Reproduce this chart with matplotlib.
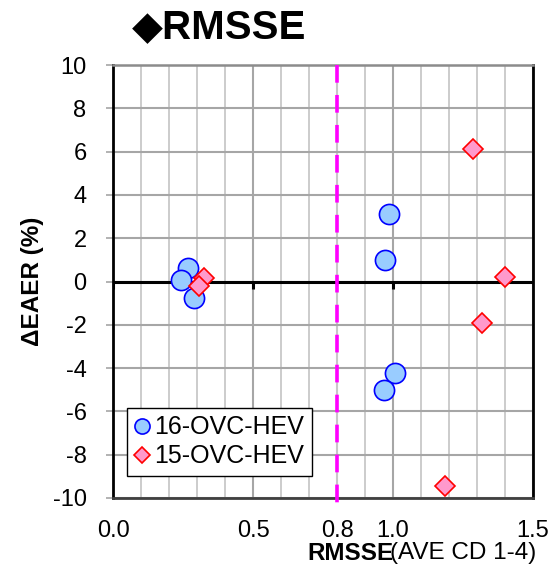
import numpy as np
import matplotlib
matplotlib.use("Agg")
import matplotlib.pyplot as plt

plt.rcParams['font.family'] = ['Liberation Sans', 'DejaVu Sans']
plt.rcParams['axes.unicode_minus'] = False

# RMSSE (x) vs ΔEAER % (y)
ovc16_rmsse = [0.267, 0.243, 0.288, 0.973, 0.986, 1.006, 0.968]
ovc16_deaer = [0.62, 0.08, -0.77, 1.0, 3.11, -4.23, -5.0]
ovc15_rmsse = [0.326, 0.307, 1.287, 1.399, 1.319, 1.187]
ovc15_deaer = [0.15, -0.2, 6.11, 0.19, -1.92, -9.45]

threshold = 0.8
x_major = [0.0, 0.5, 0.8, 1.0, 1.5]
x_labels = ["0.0", "0.5", "0.8", "1.0", "1.5"]
y_ticks = np.arange(-10, 11, 2)

fig = plt.figure(figsize=(5.57, 5.70), dpi=100)
ax = fig.add_axes([113 / 557, 1 - 498 / 570, 420 / 557, 433 / 570])

ax.set_xlim(0, 1.5)
ax.set_ylim(-10, 10)

# grid
ax.set_xticks(np.arange(0, 1.51, 0.1), minor=True)
ax.set_xticks(x_major)
ax.set_xticklabels(x_labels)
ax.set_yticks(y_ticks)
ax.set_yticklabels([str(v) for v in y_ticks])
ax.grid(which='minor', axis='x', color='#c8c8c8', lw=1.3)
ax.grid(which='major', axis='x', color='#a6a6a6', lw=1.5)
ax.grid(which='major', axis='y', color='#a6a6a6', lw=1.5)
ax.get_xgridlines()[2].set_color('#c8c8c8')
ax.set_axisbelow(True)

ax.tick_params(axis='x', which='both', length=0, pad=16, labelsize=17)
ax.tick_params(axis='y', length=5, width=1.2, color='#a6a6a6', pad=14, labelsize=17)

for side in ['left', 'right']:
    ax.spines[side].set_color('black')
    ax.spines[side].set_linewidth(2)
ax.spines['bottom'].set_color('#404040')
ax.spines['bottom'].set_linewidth(2)
ax.spines['top'].set_color('#8c8c8c')
ax.spines['top'].set_linewidth(1.8)

# zero line with its small tick marks
ax.axhline(0, color='black', lw=2.2, zorder=2)
ax.vlines([0.0, 0.5, 1.0], -0.35, 0, color='black', lw=2.2, zorder=2)

# threshold line
ax.plot([threshold, threshold], [10, -10.5], color='#ff00ff', lw=2.6,
        dashes=(4.9, 3.4), clip_on=False, zorder=3)

ax.plot(ovc16_rmsse, ovc16_deaer, 'o', ms=14.5, mfc='#99ccff', mec='#0000ff',
        mew=1.2, label='16-OVC-HEV', zorder=4)
ax.plot(ovc15_rmsse, ovc15_deaer, 'D', ms=10.5, mfc='#ff99cc', mec='#ff0000',
        mew=1.2, label='15-OVC-HEV', zorder=5)

leg = ax.legend(loc='lower left', bbox_to_anchor=(0.033, 0.051), fontsize=18,
                markerscale=0.75, handlelength=0.6, handletextpad=0.2,
                borderpad=0.3, labelspacing=0.2, fancybox=False,
                framealpha=1, edgecolor='black', borderaxespad=0)
leg.get_frame().set_linewidth(1.0)

ax.set_ylabel('ΔEAER (%)', fontsize=17.5, fontweight='bold', labelpad=6)

fig.text(307 / 557, 1 - 553 / 570, 'RMSSE', fontsize=17.5, fontweight='bold',
         ha='left', va='center')
fig.text(390 / 557, 1 - 553 / 570, '(AVE CD 1-4)', fontsize=17.5,
         ha='left', va='center')

fig.text(219 / 557, 1 - 27 / 570, '◆RMSSE', fontsize=29, fontweight='bold',
         ha='center', va='center')

fig.savefig('out.png', dpi=100)
